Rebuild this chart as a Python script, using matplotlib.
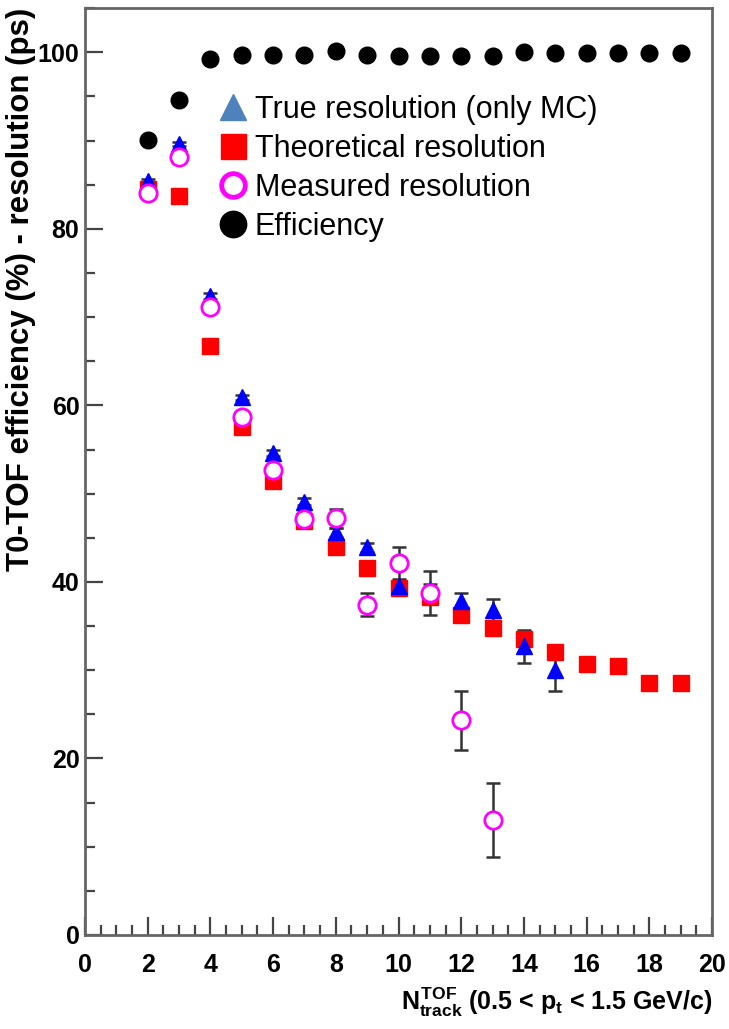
import matplotlib.pyplot as plt
import numpy as np
from matplotlib.lines import Line2D
from matplotlib.ticker import MultipleLocator

plt.rcParams["font.family"] = ["Liberation Sans", "DejaVu Sans"]
plt.rcParams["mathtext.fontset"] = "custom"
plt.rcParams["mathtext.rm"] = "Liberation Sans:bold"
plt.rcParams["mathtext.it"] = "Liberation Sans:bold"
plt.rcParams["mathtext.bf"] = "Liberation Sans:bold"

# Efficiency (%)
eff_x = np.arange(2, 20)
eff_y = [90.1, 94.6, 99.3, 99.7, 99.7, 99.7, 100.1, 99.7, 99.6, 99.6,
         99.6, 99.6, 100.0, 99.9, 99.9, 99.9, 99.9, 99.9]

# True resolution (only MC), ps
true_x = np.arange(2, 16)
true_y = [85.4, 89.6, 72.4, 60.9, 54.6, 49.1, 45.6, 43.9, 39.5, 39.1,
          37.8, 36.8, 32.7, 30.0]
true_err = [0.2, 0.2, 0.3, 0.3, 0.3, 0.4, 0.5, 0.5, 0.6, 0.7,
            1.0, 1.3, 1.9, 2.4]

# Theoretical resolution, ps
theo_x = np.arange(2, 20)
theo_y = [84.5, 83.7, 66.7, 57.5, 51.4, 46.9, 44.0, 41.6, 39.3, 38.3,
          36.3, 34.8, 33.5, 32.1, 30.7, 30.5, 28.6, 28.6]

# Measured resolution, ps
meas_x = np.arange(2, 14)
meas_y = [84.1, 88.1, 71.2, 58.7, 52.7, 47.1, 47.2, 37.4, 42.1, 38.7,
          24.3, 13.0]
meas_err = [0.3, 0.4, 0.5, 0.5, 0.6, 0.8, 1.1, 1.3, 1.8, 2.5, 3.3, 4.2]

fig = plt.figure(figsize=(7.29, 10.29), dpi=100)
ax = fig.add_axes([0.1166, 0.0914, 0.8601, 0.9006])

ebar_kw = dict(ecolor="#333333", elinewidth=1.8, capsize=5, capthick=1.8,
               linestyle="none")

ax.plot(eff_x, eff_y, "o", color="black", ms=12, zorder=3)
ax.errorbar(meas_x, meas_y, yerr=meas_err, fmt="none", zorder=2, **ebar_kw)
ax.errorbar(true_x, true_y, yerr=true_err, fmt="none", zorder=2, **ebar_kw)
ax.plot(theo_x, theo_y, "s", color="#ff0000", ms=12, zorder=3)
ax.plot(true_x, true_y, "^", color="#0000ff", ms=12, zorder=4)
ax.plot(meas_x, meas_y, "o", mfc="white", mec="#ff00ff", mew=2, ms=12.5,
        zorder=5)

ax.set_xlim(0, 20)
ax.set_ylim(0, 105)

ax.xaxis.set_major_locator(MultipleLocator(2))
ax.xaxis.set_minor_locator(MultipleLocator(0.5))
ax.yaxis.set_major_locator(MultipleLocator(20))
ax.yaxis.set_minor_locator(MultipleLocator(5))
ax.tick_params(which="both", direction="in", color="#444444", width=1.6,
               top=False, right=False)
ax.tick_params(which="major", length=13, labelsize=18)
ax.tick_params(which="minor", length=7)
ax.tick_params(axis="x", pad=13)
ax.tick_params(axis="y", pad=4)
for lab in ax.get_xticklabels() + ax.get_yticklabels():
    lab.set_fontweight("bold")

for sp in ax.spines.values():
    sp.set_color("#666666")
    sp.set_linewidth(2)

ax.set_ylabel("T0-TOF efficiency (%) - resolution (ps)", fontsize=22.5,
              fontweight="bold", loc="top")
ax.yaxis.set_label_coords(-0.078, 1.0)
ax.set_xlabel(r"$N^{TOF}_{track}$ (0.5 < p$_{t}$ < 1.5 GeV/c)", fontsize=18,
              fontweight="bold", loc="right", labelpad=6)

handles = [
    Line2D([], [], marker="^", color="#4f81bd", ls="none", ms=19),
    Line2D([], [], marker="s", color="#ff0000", ls="none", ms=18),
    Line2D([], [], marker="o", mfc="white", mec="#ff00ff", mew=3.5,
           ls="none", ms=17),
    Line2D([], [], marker="o", color="black", ls="none", ms=19),
]
labels = ["True resolution (only MC)", "Theoretical resolution",
          "Measured resolution", "Efficiency"]
ax.legend(handles, labels, loc="upper left", bbox_to_anchor=(0.195, 0.92),
          frameon=False, fontsize=22, handlelength=0.9, handletextpad=0.25,
          labelspacing=0.3, borderaxespad=0)

fig.savefig("out.png", dpi=100)
